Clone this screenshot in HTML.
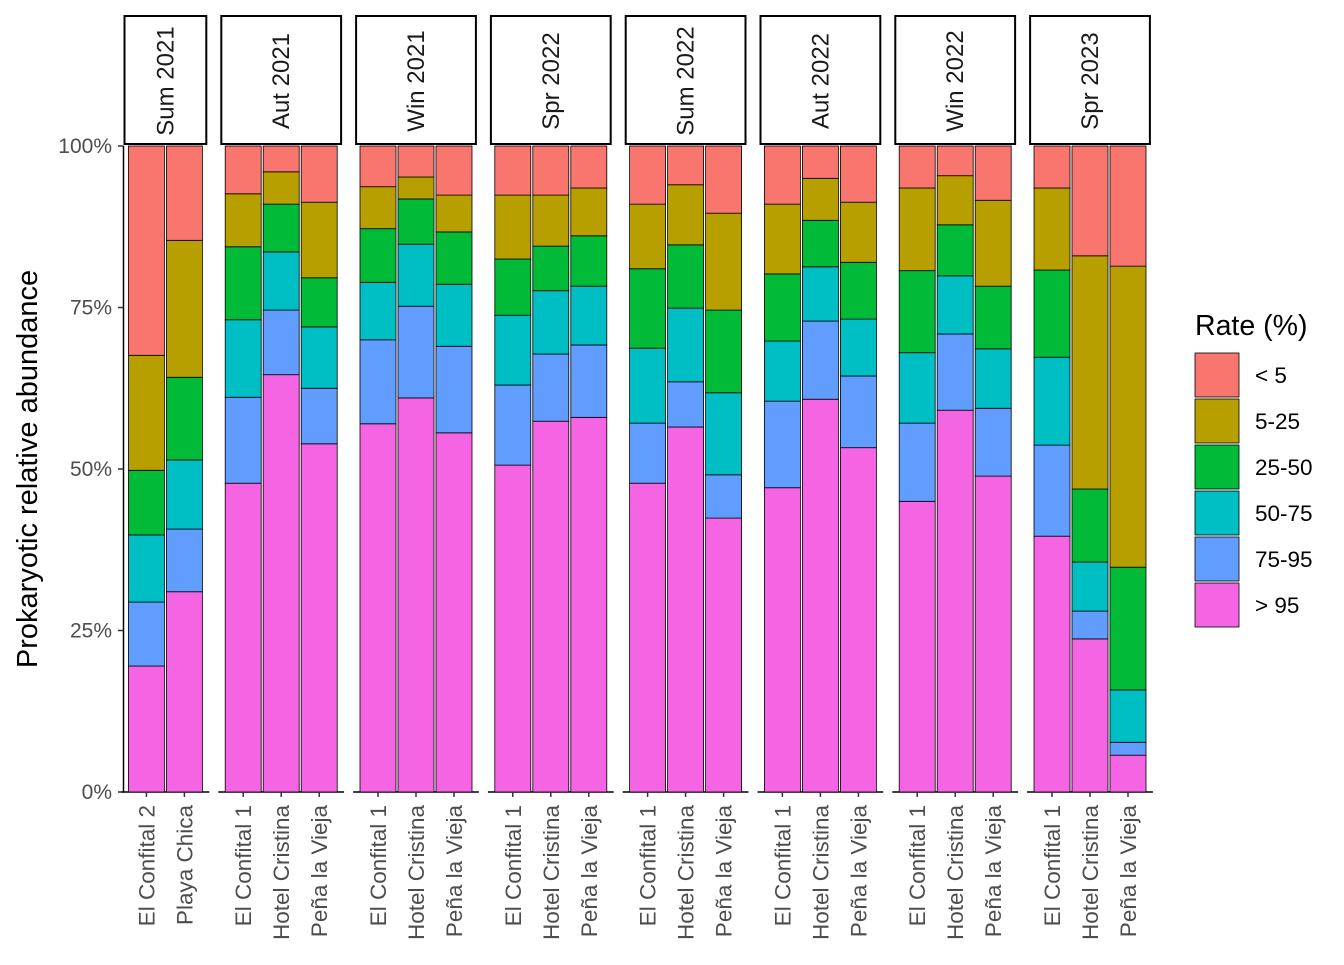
<!DOCTYPE html>
<html><head><meta charset="utf-8"><style>
html,body{margin:0;padding:0;background:#fff;}
svg text{font-family:"Liberation Sans",sans-serif;}
</style></head><body>
<svg id="chart" width="1344" height="960" xmlns="http://www.w3.org/2000/svg"></svg>
<script>
const categories = ["< 5","5-25","25-50","50-75","75-95","> 95"];
const colors = ["#F8766D","#B79F00","#00BA38","#00BFC4","#619CFF","#F564E3"];
const panels = ["Sum 2021","Aut 2021","Win 2021","Spr 2022","Sum 2022","Aut 2022","Win 2022","Spr 2023"];
const sites = [
 ["El Confital 2","Playa Chica"],
 ["El Confital 1","Hotel Cristina","Peña la Vieja"],
 ["El Confital 1","Hotel Cristina","Peña la Vieja"],
 ["El Confital 1","Hotel Cristina","Peña la Vieja"],
 ["El Confital 1","Hotel Cristina","Peña la Vieja"],
 ["El Confital 1","Hotel Cristina","Peña la Vieja"],
 ["El Confital 1","Hotel Cristina","Peña la Vieja"],
 ["El Confital 1","Hotel Cristina","Peña la Vieja"]
];
// series values per bar, in order: >95, 75-95, 50-75, 25-50, 5-25 (< 5 = remainder)
const gt95  = [19.5,31.0, 47.8,64.6,53.9, 57.0,61.0,55.6, 50.6,57.4,58.0, 47.8,56.5,42.4, 47.1,60.8,53.3, 45.0,59.1,48.9, 39.6,23.7,5.7];
const r7595 = [9.9,9.7, 13.3,10.0,8.6, 13.0,14.2,13.4, 12.4,10.4,11.2, 9.3,7.0,6.7, 13.4,12.1,11.1, 12.1,11.8,10.5, 14.1,4.3,2.0];
const r5075 = [10.4,10.7, 12.0,9.0,9.5, 8.9,9.6,9.6, 10.8,9.8,9.1, 11.6,11.4,12.7, 9.3,8.4,8.8, 10.9,9.0,9.2, 13.6,7.6,8.1];
const r2550 = [10.0,12.8, 11.3,7.4,7.6, 8.3,7.0,8.1, 8.7,6.9,7.8, 12.3,9.8,12.8, 10.4,7.2,8.8, 12.7,7.9,9.7, 13.5,11.3,19.0];
const r525  = [17.8,21.2, 8.2,5.0,11.7, 6.5,3.4,5.7, 9.9,7.9,7.4, 10.0,9.3,15.0, 10.8,6.5,9.3, 12.8,7.6,13.3, 12.7,36.1,46.6];
const yTicks = [0,25,50,75,100];
const yTickLabels = ["0%","25%","50%","75%","100%"];

const NS="http://www.w3.org/2000/svg";
const svg=document.getElementById('chart');
function mk(tag,attrs,parent){const e=document.createElementNS(NS,tag);for(const k in attrs)e.setAttribute(k,attrs[k]);(parent||svg).appendChild(e);return e;}
const y0=792,y1=146;
function yScale(v){return y0-(y0-y1)*v/100;}
const unit=38, barW=36, gapP=17;
let px=125.5;
const panelX=[];
panels.forEach((p,i)=>{const w=(sites[i].length-1+1.1)*unit; panelX.push([px,w]); px+=w+gapP;});

const yax=mk('g',{});


mk('line',{x1:123.5,y1:y1,x2:123.5,y2:y0,stroke:'#000','stroke-width':1.5},yax);
yTicks.forEach((t,i)=>{
 const y=yScale(t);
 mk('line',{x1:118,y1:y,x2:123.5,y2:y,stroke:'#333','stroke-width':1.5},yax);
 const tx=mk('text',{x:112,y:y+7,'text-anchor':'end','font-size':21,fill:'#4d4d4d'},yax);
 
 
 tx.textContent=yTickLabels[i];
});
const yt=mk('text',{x:0,y:0,transform:'translate(37,469) rotate(-90)','text-anchor':'middle','font-size':29,fill:'#000'});


yt.textContent='Prokaryotic relative abundance';

let bi=0;
panels.forEach((p,i)=>{
 const [x0,w]=panelX[i];
 const g=mk('g',{});
 
 
 const st=mk('rect',{x:x0-1,y:16,width:w+2,height:128,fill:'#fff',stroke:'#000','stroke-width':2},g);
 
 
 const stt=mk('text',{x:0,y:0,transform:`translate(${x0+w/2+8},81) rotate(-90)`,'text-anchor':'middle','font-size':24,fill:'#1a1a1a'},g);
 
 
 stt.textContent=p;
 mk('line',{x1:x0-4,y1:y0,x2:x0+w+4,y2:y0,stroke:'#000','stroke-width':1.5},g);
 sites[i].forEach((s,j)=>{
  const cx=x0+unit*0.55+j*unit;
  const vals=[gt95[bi],r7595[bi],r5075[bi],r2550[bi],r525[bi]];
  let cum=0;
  const segs=vals.map(v=>{const a=cum;cum+=v;return [a,cum];});
  segs.push([cum,100]);
  const colIdx=[5,4,3,2,1,0];
  segs.forEach((sg,k)=>{
   const r=mk('rect',{x:cx-barW/2,y:yScale(sg[1]),width:barW,height:yScale(sg[0])-yScale(sg[1]),fill:colors[colIdx[k]],stroke:'#000','stroke-width':0.8},g);
   
   
  });
  mk('line',{x1:cx,y1:y0,x2:cx,y2:y0+5,stroke:'#333','stroke-width':1.5},g);
  const xl=mk('text',{x:0,y:0,transform:`translate(${cx+8},805) rotate(-90)`,'text-anchor':'end','font-size':22.5,fill:'#4d4d4d'},g);
  
  
  xl.textContent=s;
  bi++;
 });
});

const lg=mk('g',{});


const lt=mk('text',{x:1195,y:335,'font-size':28.5,fill:'#000'},lg);


lt.textContent='Rate (%)';
categories.forEach((c,i)=>{
 const y=353+i*46;
 const r=mk('rect',{x:1195,y:y,width:44,height:44,fill:colors[i],stroke:'#000','stroke-width':0.8},lg);
 
 
 const t=mk('text',{x:1255,y:y+30,'font-size':22.5,fill:'#000'},lg);
 
 
 t.textContent=c;
});
</script>
</body></html>
